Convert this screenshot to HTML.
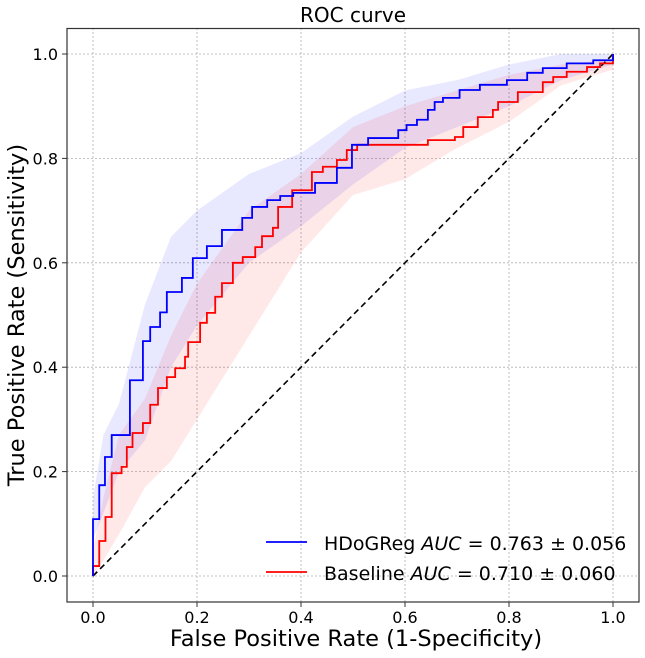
<!DOCTYPE html>
<html><head><meta charset="utf-8"><style>
body{margin:0;background:#fff}
svg{display:block;font-family:"DejaVu Sans","Liberation Sans",sans-serif}
</style></head><body>
<svg id="chart" width="645" height="658" viewBox="0 0 645 658" xmlns="http://www.w3.org/2000/svg">
<g id="grid"></g>
<g id="bands"></g>
<g id="lines"></g>
<rect x="67" y="28.5" width="572" height="573.5" fill="none" stroke="#333" stroke-width="1.2"/>
<g id="ticks"></g>
<text x="353" y="22" font-size="20" text-anchor="middle">ROC curve</text>
<text x="356" y="646" font-size="22.5" text-anchor="middle">False Positive Rate (1-Specificity)</text>
<text transform="translate(24,315) rotate(-90)" font-size="22.5" text-anchor="middle">True Positive Rate (Sensitivity)</text>
<g>
<line x1="266" y1="542" x2="307" y2="542" stroke="#0000ff" stroke-width="1.8"/>
<text x="324" y="550" font-size="19">HDoGReg <tspan font-style="italic">AUC</tspan> = 0.763 ± 0.056</text>
<line x1="266" y1="572" x2="307" y2="572" stroke="#ff0000" stroke-width="1.8"/>
<text x="324" y="580" font-size="19">Baseline <tspan font-style="italic">AUC</tspan> = 0.710 ± 0.060</text>
</g>
</svg>
<script>
const tickValues=[0,0.2,0.4,0.6,0.8,1.0];
const tickLabels=["0.0","0.2","0.4","0.6","0.8","1.0"];
const blueFpr=[0,0.012,0.023,0.036,0.071,0.096,0.11,0.129,0.142,0.171,0.192,0.219,0.248,0.287,0.306,0.335,0.36,0.385,0.427,0.469,0.498,0.529,0.587,0.603,0.623,0.644,0.657,0.673,0.705,0.744,0.796,0.835,0.865,0.911,0.962,1.0];
const blueTpr=[0.109,0.174,0.228,0.27,0.375,0.45,0.477,0.505,0.544,0.571,0.609,0.632,0.663,0.686,0.707,0.72,0.728,0.734,0.753,0.782,0.826,0.839,0.854,0.864,0.874,0.893,0.908,0.916,0.931,0.941,0.95,0.964,0.973,0.982,0.988,1.0];
const redFpr=[0,0.012,0.024,0.036,0.055,0.065,0.076,0.096,0.11,0.125,0.142,0.158,0.177,0.183,0.206,0.219,0.235,0.248,0.269,0.288,0.312,0.325,0.346,0.356,0.383,0.421,0.442,0.469,0.488,0.508,0.644,0.696,0.712,0.74,0.769,0.779,0.817,0.865,0.885,0.911,0.95,0.975,1.0];
const redTpr=[0.019,0.067,0.113,0.197,0.209,0.247,0.274,0.293,0.328,0.36,0.381,0.398,0.42,0.448,0.485,0.504,0.535,0.561,0.6,0.611,0.63,0.651,0.667,0.707,0.739,0.774,0.784,0.797,0.816,0.826,0.835,0.841,0.86,0.879,0.893,0.908,0.927,0.946,0.956,0.966,0.975,0.982,1.0];
const bandFpr=[0,0.02,0.05,0.1,0.15,0.2,0.3,0.4,0.5,0.6,0.7,0.8,0.9,1];
const blueUpper=[0.15,0.27,0.33,0.52,0.65,0.7,0.77,0.81,0.88,0.93,0.95,0.98,1,1];
const blueLower=[0.07,0.12,0.2,0.26,0.4,0.48,0.6,0.67,0.75,0.82,0.86,0.9,0.95,0.98];
const redUpper=[0.05,0.15,0.27,0.34,0.46,0.56,0.7,0.77,0.86,0.9,0.93,0.96,0.98,0.99];
const redLower=[0,0.03,0.08,0.17,0.22,0.3,0.46,0.62,0.73,0.76,0.82,0.87,0.94,0.97];
const NS="http://www.w3.org/2000/svg";
const X=v=>93+v*520, Y=v=>576-v*522;
function mk(tag,attrs,parent){const e=document.createElementNS(NS,tag);for(const k in attrs)e.setAttribute(k,attrs[k]);parent.appendChild(e);return e;}
const grid=document.getElementById('grid'),ticks=document.getElementById('ticks');
tickValues.forEach((v,i)=>{
 const gx=mk('line',{x1:X(v),x2:X(v),y1:28,y2:602,stroke:'#b0b0b0','stroke-width':0.8,'stroke-dasharray':'2,2'},grid);
 
 const gy=mk('line',{x1:67,x2:639,y1:Y(v),y2:Y(v),stroke:'#b0b0b0','stroke-width':0.8,'stroke-dasharray':'2,2'},grid);
 
 mk('line',{x1:X(v),x2:X(v),y1:602,y2:607,stroke:'#333'},ticks);
 mk('line',{x1:62,x2:67,y1:Y(v),y2:Y(v),stroke:'#333'},ticks);
 const tx=mk('text',{x:X(v),y:623,'font-size':16,'text-anchor':'middle'},ticks);tx.textContent=tickLabels[i];
 
 const ty=mk('text',{x:58,y:Y(v)+6,'font-size':16,'text-anchor':'end'},ticks);ty.textContent=tickLabels[i];
 
});
function stepPath(xs,ys){let d=`M${X(xs[0])},${Y(0)}L${X(xs[0])},${Y(ys[0])}`;for(let i=1;i<xs.length;i++){d+=`L${X(xs[i])},${Y(ys[i-1])}L${X(xs[i])},${Y(ys[i])}`;}return d;}
function band(xs,up,lo){let d='';for(let i=0;i<xs.length;i++){d+=(i?'L':'M')+X(xs[i])+','+Y(Math.min(up[i],1));}for(let i=xs.length-1;i>=0;i--){d+='L'+X(xs[i])+','+Y(lo[i]);}return d+'Z';}
const bands=document.getElementById('bands'),lines=document.getElementById('lines');
const bb=mk('path',{d:band(bandFpr,blueUpper,blueLower),fill:'#0000ff','fill-opacity':0.09},bands);

const rb=mk('path',{d:band(bandFpr,redUpper,redLower),fill:'#ff0000','fill-opacity':0.09},bands);

const dg=mk('line',{x1:X(0),y1:Y(0),x2:X(1),y2:Y(1),stroke:'#000','stroke-width':1.6,'stroke-dasharray':'6,4'},lines);

const rl=mk('path',{d:stepPath(redFpr,redTpr),fill:'none',stroke:'#ff0000','stroke-width':1.8},lines);

const bl=mk('path',{d:stepPath(blueFpr,blueTpr),fill:'none',stroke:'#0000ff','stroke-width':1.8},lines);

</script>
</body></html>
